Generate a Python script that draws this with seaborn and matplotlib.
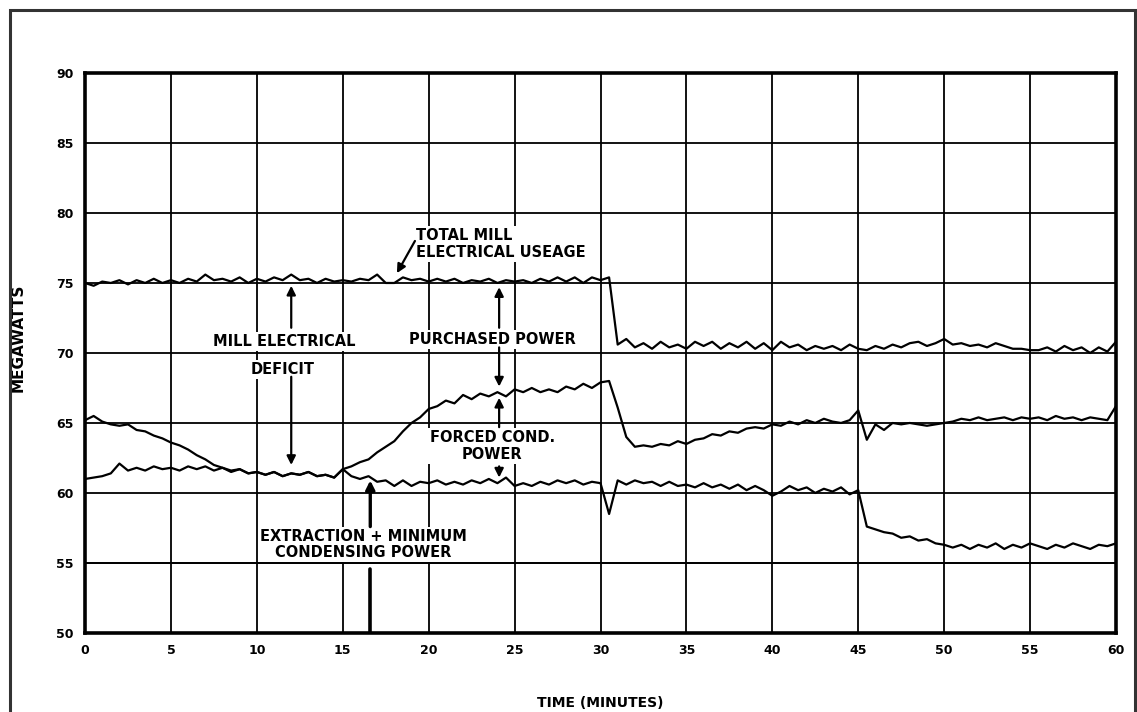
import numpy as np
import pandas as pd
import matplotlib.pyplot as plt
import seaborn as sns
from matplotlib.patches import Rectangle

minutes = np.arange(0, 60.5, 0.5)

total_mill = [
    75.0, 74.8, 75.1, 75.0, 75.2, 74.9, 75.2, 75.0, 75.3, 75.0, 75.2,
    75.0, 75.3, 75.1, 75.6, 75.2, 75.3, 75.1, 75.4, 75.0, 75.3,
    75.1, 75.4, 75.2, 75.6, 75.2, 75.3, 75.0, 75.3, 75.1, 75.2,
    75.1, 75.3, 75.2, 75.6, 75.0, 75.0, 75.4, 75.2, 75.3, 75.1,
    75.3, 75.1, 75.3, 75.0, 75.2, 75.1, 75.3, 75.0, 75.2, 75.1,
    75.2, 75.0, 75.3, 75.1, 75.4, 75.1, 75.4, 75.0, 75.4, 75.2,
    75.4, 70.6, 71.0, 70.4, 70.7, 70.3, 70.8, 70.4, 70.6, 70.3,
    70.8, 70.5, 70.8, 70.3, 70.7, 70.4, 70.8, 70.3, 70.7, 70.2,
    70.8, 70.4, 70.6, 70.2, 70.5, 70.3, 70.5, 70.2, 70.6, 70.3,
    70.2, 70.5, 70.3, 70.6, 70.4, 70.7, 70.8, 70.5, 70.7, 71.0,
    70.6, 70.7, 70.5, 70.6, 70.4, 70.7, 70.5, 70.3, 70.3, 70.2,
    70.2, 70.4, 70.1, 70.5, 70.2, 70.4, 70.0, 70.4, 70.1, 70.8,
]

purchased_floor = [
    65.2, 65.5, 65.1, 64.9, 64.8, 64.9, 64.5, 64.4, 64.1, 63.9, 63.6,
    63.4, 63.1, 62.7, 62.4, 62.0, 61.8, 61.6, 61.7, 61.4, 61.5,
    61.3, 61.5, 61.2, 61.4, 61.3, 61.5, 61.2, 61.3, 61.1, 61.7,
    61.9, 62.2, 62.4, 62.9, 63.3, 63.7, 64.4, 65.0, 65.4, 66.0,
    66.2, 66.6, 66.4, 67.0, 66.7, 67.1, 66.9, 67.2, 66.9, 67.4,
    67.2, 67.5, 67.2, 67.4, 67.2, 67.6, 67.4, 67.8, 67.5, 67.9,
    68.0, 66.1, 64.0, 63.3, 63.4, 63.3, 63.5, 63.4, 63.7, 63.5,
    63.8, 63.9, 64.2, 64.1, 64.4, 64.3, 64.6, 64.7, 64.6, 64.9,
    64.8, 65.1, 64.9, 65.2, 65.0, 65.3, 65.1, 65.0, 65.2, 65.9,
    63.8, 64.9, 64.5, 65.0, 64.9, 65.0, 64.9, 64.8, 64.9, 65.0,
    65.1, 65.3, 65.2, 65.4, 65.2, 65.3, 65.4, 65.2, 65.4, 65.3,
    65.4, 65.2, 65.5, 65.3, 65.4, 65.2, 65.4, 65.3, 65.2, 66.2,
]

extraction = [
    61.0, 61.1, 61.2, 61.4, 62.1, 61.6, 61.8, 61.6, 61.9, 61.7, 61.8,
    61.6, 61.9, 61.7, 61.9, 61.6, 61.8, 61.5, 61.7, 61.4, 61.5,
    61.3, 61.5, 61.2, 61.4, 61.3, 61.5, 61.2, 61.3, 61.1, 61.7,
    61.2, 61.0, 61.2, 60.8, 60.9, 60.5, 60.9, 60.5, 60.8, 60.7,
    60.9, 60.6, 60.8, 60.6, 60.9, 60.7, 61.0, 60.7, 61.1, 60.5,
    60.7, 60.5, 60.8, 60.6, 60.9, 60.7, 60.9, 60.6, 60.8, 60.7,
    58.5, 60.9, 60.6, 60.9, 60.7, 60.8, 60.5, 60.8, 60.5, 60.6,
    60.4, 60.7, 60.4, 60.6, 60.3, 60.6, 60.2, 60.5, 60.2, 59.8,
    60.1, 60.5, 60.2, 60.4, 60.0, 60.3, 60.1, 60.4, 59.9, 60.2,
    57.6, 57.4, 57.2, 57.1, 56.8, 56.9, 56.6, 56.7, 56.4, 56.3,
    56.1, 56.3, 56.0, 56.3, 56.1, 56.4, 56.0, 56.3, 56.1, 56.4,
    56.2, 56.0, 56.3, 56.1, 56.4, 56.2, 56.0, 56.3, 56.2, 56.4,
]

x_ticks = list(range(0, 61, 5))
y_ticks = list(range(50, 91, 5))

df = pd.DataFrame({
    'minutes': minutes,
    'total': total_mill,
    'purchased': purchased_floor,
    'extraction': extraction,
})

sns.set_theme(style='white')
plt.rcParams['font.family'] = ['DejaVu Sans']

fig = plt.figure(figsize=(11.37, 7.12), dpi=100)
ax = fig.add_axes([0.0748, 0.111, 0.9067, 0.7865])

for col in ['total', 'purchased', 'extraction']:
    sns.lineplot(data=df, x='minutes', y=col, ax=ax, color='black',
                 linewidth=1.6, estimator=None, zorder=4)

ax.set_xlim(0, 60)
ax.set_ylim(50, 90)
ax.set_xticks(x_ticks)
ax.set_yticks(y_ticks)
ax.tick_params(length=0, labelsize=9, pad=8, labelcolor='black')
for lab in ax.get_xticklabels() + ax.get_yticklabels():
    lab.set_fontweight('bold')
ax.grid(True, color='black', linewidth=1.3)
for sp in ax.spines.values():
    sp.set_color('black')
    sp.set_linewidth(2.6)

ax.set_xlabel('TIME (MINUTES)', fontsize=10, fontweight='bold', color='black')
ax.xaxis.set_label_coords(0.5, -0.112)
ax.set_ylabel('MEGAWATTS', fontsize=11, fontweight='bold', color='black')
ax.yaxis.label.set_va('center')
ax.yaxis.set_label_coords(-0.065, 0.527)

# labels with white boxes that break the grid
box = dict(facecolor='white', edgecolor='none', pad=1.5)
txt = dict(fontsize=10.5, fontweight='bold', color='black', zorder=3, bbox=box)
ax.text(19.25, 77.8, 'TOTAL MILL\nELECTRICAL USEAGE', ha='left', va='center',
        linespacing=1.15, **txt)
ax.text(11.6, 70.85, 'MILL ELECTRICAL', ha='center', va='center', **txt)
ax.text(11.5, 68.85, 'DEFICIT', ha='center', va='center', **txt)
ax.text(23.7, 70.95, 'PURCHASED POWER', ha='center', va='center', **txt)
ax.text(23.7, 63.35, 'FORCED COND.\nPOWER', ha='center', va='center',
        linespacing=1.15, **txt)
ax.text(16.2, 56.3, 'EXTRACTION + MINIMUM\nCONDENSING POWER', ha='center',
        va='center', linespacing=1.1, **txt)
# the 55 MW grid line stays visible under the extraction label
ax.axhline(55, color='black', linewidth=1.3, zorder=3.5)

arrow = dict(arrowstyle='-|>', color='black', lw=1.6, mutation_scale=13,
             shrinkA=0, shrinkB=0)
arrows = [
    ((19.2, 78.0), (18.15, 75.7)),
    ((12.0, 71.8), (12.0, 74.8)),
    ((12.0, 68.3), (12.0, 62.0)),
    ((24.1, 71.8), (24.1, 74.7)),
    ((24.1, 70.4), (24.1, 67.6)),
    ((24.1, 64.7), (24.1, 66.8)),
    ((24.1, 61.9), (24.1, 61.1)),
]
for tail, tip in arrows:
    ax.annotate('', xy=tip, xytext=tail, arrowprops=arrow, zorder=5)
ax.annotate('', xy=(16.6, 60.9), xytext=(16.6, 57.6),
            arrowprops=dict(arrow, lw=2.4), zorder=5)
ax.plot([16.6, 16.6], [50, 54.6], color='black', lw=2.6, zorder=5)

# outer frame of the page
fig.add_artist(Rectangle((0.0088, -0.05), 0.9895, 1.036, transform=fig.transFigure,
                         fill=False, edgecolor='#333333', linewidth=2.2))

fig.savefig('out.png', dpi=100)
